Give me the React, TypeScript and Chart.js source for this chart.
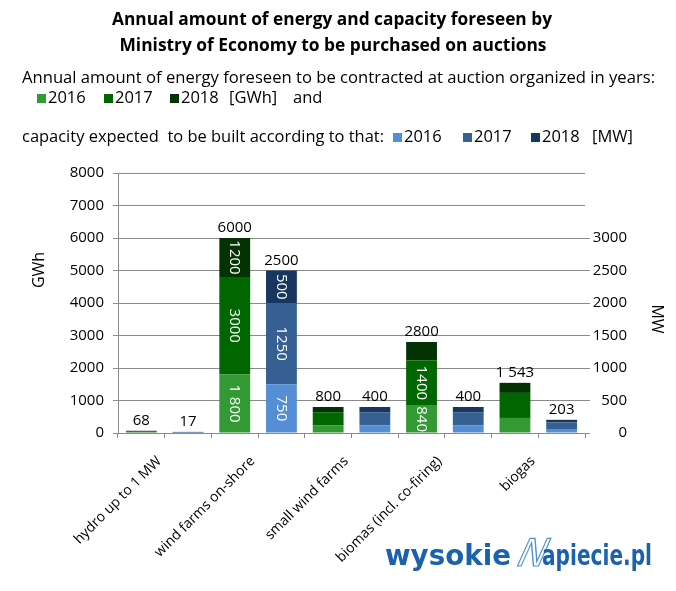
import React, { useEffect, useRef } from 'react';
import { Chart, registerables } from 'chart.js';
Chart.register(...registerables);

// ---- data ----
const categories = ['hydro up to 1 MW', '', 'wind farms on-shore', '', 'small wind farms', '', 'biomas (incl. co-firing)', '', 'biogas', ''];
const gwh2016 = [20, null, 1800, null, 240, null, 840, null, 463, null];
const gwh2017 = [34, null, 3000, null, 400, null, 1400, null, 771, null];
const gwh2018 = [14, null, 1200, null, 160, null, 560, null, 309, null];
const mw2016 = [null, 5, null, 750, null, 120, null, 120, null, 61];
const mw2017 = [null, 9, null, 1250, null, 200, null, 200, null, 101];
const mw2018 = [null, 3, null, 500, null, 80, null, 80, null, 41];
const totalLabels = ['68', '17', '6000', '2500', '800', '400', '2800', '400', '1 543', '203'];
const inner2016 = ['', '', '1 800', '750', '', '', '840', '', '', ''];
const inner2017 = ['', '', '3000', '1250', '', '', '1400', '', '', ''];
const inner2018 = ['', '', '1200', '500', '', '', '', '', '', ''];
const years = ['2016', '2017', '2018'];
const gwhMax = 8000;
const gwhStep = 1000;
const mwMax = 4000;
const mwStep = 500;
const mwLabelMax = 3000;
const titleLines = ['Annual amount of energy and capacity foreseen by', 'Ministry of Economy to be purchased on auctions'];
const subtitle = 'Annual amount of energy foreseen to be contracted at auction organized in years:';
const legendLine2Text = 'capacity expected  to be built according to that:';

const GREENS = ['#339933', '#006600', '#033303'];
const BLUES = ['#558ED5', '#376092', '#17375E'];
const GRID = '#8a8a8a';
const FONT = "'Open Sans', sans-serif";

export default function App() {
  const ref = useRef<HTMLCanvasElement>(null);
  useEffect(() => {
    const canvas = ref.current!;
    const innerArrays = [inner2016, inner2017, inner2018, inner2016, inner2017, inner2018];

    const labelsPlugin = {
      id: 'barLabels',
      afterDatasetsDraw(chart: any) {
        const ctx = chart.ctx;
        ctx.save();
        ctx.font = `15px ${FONT}`;
        chart.data.datasets.forEach((ds: any, di: number) => {
          const meta = chart.getDatasetMeta(di);
          meta.data.forEach((el: any, i: number) => {
            const txt = innerArrays[di][i];
            if (ds.data[i] == null || !txt) return;
            const cy = (el.y + el.base) / 2;
            ctx.save();
            ctx.translate(el.x, cy);
            ctx.rotate(Math.PI / 2);
            ctx.fillStyle = '#fff';
            ctx.textAlign = 'center';
            ctx.textBaseline = 'middle';
            ctx.fillText(txt, 0, 0);
            ctx.restore();
          });
        });
        for (let i = 0; i < categories.length; i++) {
          let top = Infinity;
          let x = 0;
          chart.data.datasets.forEach((ds: any, di: number) => {
            if (ds.data[i] == null) return;
            const el = chart.getDatasetMeta(di).data[i];
            if (el.y < top) { top = el.y; x = el.x; }
          });
          if (top === Infinity) continue;
          ctx.fillStyle = '#000';
          ctx.textAlign = 'center';
          ctx.textBaseline = 'alphabetic';
          ctx.fillText(totalLabels[i], x, top - 6);
        }
        ctx.restore();
      },
    };

    const headerPlugin = {
      id: 'header',
      afterDraw(chart: any) {
        const ctx = chart.ctx;
        ctx.save();
        ctx.fillStyle = '#000';
        ctx.textBaseline = 'middle';
        const fitText = (text: string, x: number, y: number, width: number, align: 'left' | 'center') => {
          const w = ctx.measureText(text).width;
          ctx.save();
          ctx.translate(align === 'center' ? x - width / 2 : x, y);
          ctx.scale(width / w, 1);
          ctx.textAlign = 'left';
          ctx.fillText(text, 0, 0);
          ctx.restore();
        };
        ctx.font = `bold 17px ${FONT}`;
        fitText(titleLines[0], 332, 20, 440, 'center');
        fitText(titleLines[1], 333, 46, 427, 'center');
        ctx.font = `16px ${FONT}`;
        fitText(subtitle, 22, 78, 633, 'left');

        ctx.textAlign = 'left';
        ctx.font = `16.5px ${FONT}`;
        const item = (color: string, text: string, bx: number, y: number) => {
          ctx.fillStyle = color;
          ctx.fillRect(bx, y - 4, 9, 9);
          ctx.fillStyle = '#000';
          ctx.fillText(text, bx + 11, y);
        };
        const row1Boxes = [37, 104, 170];
        const row2Boxes = [393, 463, 531];
        years.forEach((yr, k) => item(GREENS[k], yr, row1Boxes[k], 98));
        ctx.fillStyle = '#000';
        ctx.fillText('[GWh]', 229, 98);
        ctx.fillText('and', 293, 98);

        ctx.font = `16px ${FONT}`;
        fitText(legendLine2Text, 22, 137, 362, 'left');
        ctx.font = `16.5px ${FONT}`;
        years.forEach((yr, k) => item(BLUES[k], yr, row2Boxes[k], 137));
        ctx.fillStyle = '#000';
        ctx.fillText('[MW]', 592, 137);

        // axis titles
        ctx.font = `16px ${FONT}`;
        ctx.textAlign = 'center';
        ctx.save();
        ctx.translate(39, 270);
        ctx.rotate(-Math.PI / 2);
        ctx.fillText('GWh', 0, 0);
        ctx.restore();
        ctx.save();
        ctx.translate(657, 319);
        ctx.rotate(Math.PI / 2);
        ctx.fillText('MW', 0, 0);
        ctx.restore();

        // logo
        const fit = (text: string, left: number, base: number, width: number, color: string) => {
          ctx.save();
          ctx.font = `bold 28px 'DejaVu Sans', sans-serif`;
          ctx.fillStyle = color;
          ctx.textAlign = 'left';
          ctx.textBaseline = 'alphabetic';
          const w = ctx.measureText(text).width;
          ctx.translate(left, base);
          ctx.scale(width / w, 1);
          ctx.fillText(text, 0, 0);
          ctx.restore();
        };
        fit('wysokie', 385, 565, 126, '#1a62ae');
        ctx.save();
        ctx.translate(528, 566);
        ctx.transform(1, 0, -0.45, 1, 0, 0);
        ctx.font = `38px 'DejaVu Sans', sans-serif`;
        ctx.strokeStyle = '#4d8fd0';
        ctx.lineWidth = 1.2;
        ctx.textAlign = 'center';
        ctx.textBaseline = 'alphabetic';
        ctx.strokeText('N', 0, 0);
        ctx.restore();
        fit('apiecie.pl', 542, 565, 110, '#1a62ae');
        ctx.restore();
      },
    };

    const mk = (label: string, data: any[], color: string, axis: string) => ({
      label, data, backgroundColor: color, yAxisID: axis, stack: 'a', borderWidth: 0,
      categoryPercentage: 1, barPercentage: 0.66,
    });

    const chart = new Chart(canvas, {
      type: 'bar',
      data: {
        labels: categories,
        datasets: [
          mk('2016 GWh', gwh2016, GREENS[0], 'y'),
          mk('2017 GWh', gwh2017, GREENS[1], 'y'),
          mk('2018 GWh', gwh2018, GREENS[2], 'y'),
          mk('2016 MW', mw2016, BLUES[0], 'y1'),
          mk('2017 MW', mw2017, BLUES[1], 'y1'),
          mk('2018 MW', mw2018, BLUES[2], 'y1'),
        ],
      },
      options: {
        responsive: false,
        animation: false,
        layout: { padding: { top: 173, left: 0, right: 49, bottom: 0 } },
        plugins: { legend: { display: false }, title: { display: false }, tooltip: { enabled: false } },
        scales: {
          x: {
            stacked: true,
            afterFit: (s: any) => { s.height = 158; },
            grid: { drawOnChartArea: false, drawTicks: true, tickLength: 5, color: GRID, offset: true },
            border: { display: true, color: GRID },
            ticks: {
              autoSkip: false, maxRotation: 45, minRotation: 45, labelOffset: 18, padding: 15,
              color: '#000', font: { family: FONT, size: 14 },
            },
          },
          y: {
            stacked: true, position: 'left', min: 0, max: gwhMax,
            afterFit: (s: any) => { s.width = 118; },
            grid: { color: GRID, tickLength: 5 },
            border: { display: true, color: GRID },
            ticks: { stepSize: gwhStep, padding: 9, color: '#000', font: { family: FONT, size: 15 }, callback: (v: any) => String(v) },
          },
          y1: {
            stacked: true, position: 'right', min: 0, max: mwMax,
            afterFit: (s: any) => { s.width = 42; },
            grid: { drawOnChartArea: false, tickLength: 5, color: (c: any) => (c.tick && c.tick.value > mwLabelMax ? 'rgba(0,0,0,0)' : GRID) },
            border: { display: false },
            ticks: { stepSize: mwStep, padding: 2, crossAlign: 'far', color: '#000', font: { family: FONT, size: 15 }, callback: (v: any) => (v > mwLabelMax ? '' : String(v)) },
          },
        },
      },
      plugins: [labelsPlugin, headerPlugin],
    } as any);
    return () => chart.destroy();
  }, []);
  return (
    <div style={{ position: 'absolute', left: 0, top: 0, width: 676, height: 591, background: '#fff' }}>
      <canvas ref={ref} width={676} height={591} />
    </div>
  );
}
